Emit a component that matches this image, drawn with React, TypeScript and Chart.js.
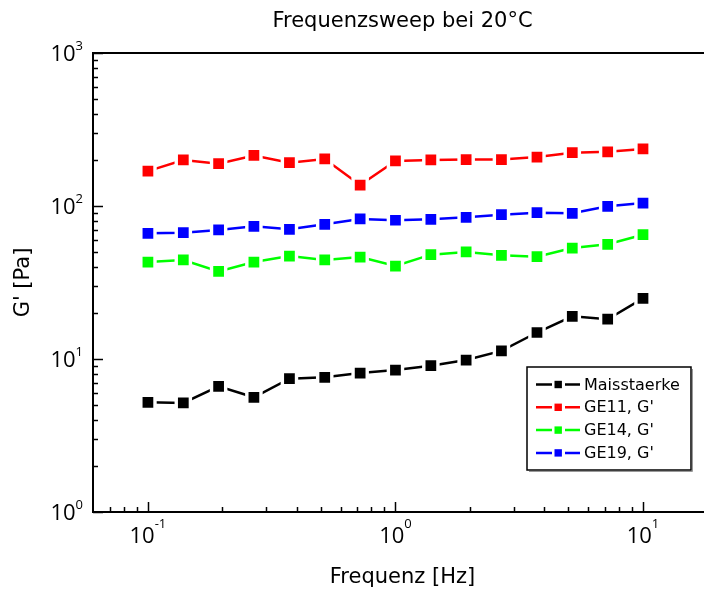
import React, { useEffect, useRef } from "react";
import { Chart, registerables } from "chart.js";

Chart.register(...registerables);

const frequency = [0.1, 0.139, 0.193, 0.268, 0.373, 0.518, 0.72, 1, 1.39, 1.93, 2.68, 3.73, 5.18, 7.2, 10];
const maisstaerke = [5.21, 5.16, 6.63, 5.62, 7.43, 7.59, 8.09, 8.47, 9.04, 9.85, 11.3, 14.9, 19.0, 18.2, 24.9];
const ge11 = [169, 200, 189, 214, 192, 203, 137, 197, 200, 201, 201, 209, 223, 226, 236];
const ge14 = [43.0, 44.4, 37.4, 43.0, 47.1, 44.4, 46.4, 40.5, 48.1, 50.1, 47.6, 46.6, 53.1, 56.2, 64.9];
const ge19 = [66.3, 66.9, 69.7, 73.7, 70.4, 75.9, 82.3, 80.7, 81.9, 84.4, 87.7, 90.4, 89.6, 99.5, 104.6];

const seriesNames = ["Maisstaerke", "GE11, G'", "GE14, G'", "GE19, G'"];
const seriesColors = ["#000000", "#ff0000", "#00ff00", "#0000ff"];

const tickBase = "10";
const xTickValues = [0.1, 1, 10];
const xTickExponents = ["-1", "0", "1"];
const yTickValues = [1, 10, 100, 1000];
const yTickExponents = ["0", "1", "2", "3"];

const titleText = "Frequenzsweep bei 20°C";
const xTitle = "Frequenz [Hz]";
const yTitle = "G' [Pa]";

const FONT = "'DejaVu Sans', sans-serif";
const TICK_FONT = "'Open Sans', 'DejaVu Sans', sans-serif";

function drawPow(ctx: any, x: number, baseY: number, expY: number, exp: string, align: "right" | "center") {
  ctx.font = `22px ${TICK_FONT}`;
  const wb = ctx.measureText(tickBase).width;
  ctx.font = `13px ${TICK_FONT}`;
  const we = ctx.measureText(exp).width;
  const total = wb + we;
  const start = align === "right" ? x - total : x - total / 2;
  ctx.textAlign = "left";
  ctx.textBaseline = "alphabetic";
  ctx.font = `22px ${TICK_FONT}`;
  ctx.fillText(tickBase, start, baseY);
  ctx.font = `13px ${TICK_FONT}`;
  ctx.fillText(exp, start + wb, expY);
}

const decorPlugin = {
  id: "decor",
  afterDraw(chart: any) {
    const { ctx, chartArea: ca, scales } = chart;
    const xs = scales.x;
    const ys = scales.y;
    ctx.save();
    ctx.strokeStyle = "#000";
    ctx.lineWidth = 2;
    ctx.beginPath();
    ctx.moveTo(ca.left - 1, ca.top);
    ctx.lineTo(ca.right, ca.top);
    ctx.stroke();

    ctx.lineWidth = 1.5;
    for (let k = -3; k <= 3; k++) {
      for (let m = 1; m <= 9; m++) {
        const v = m * Math.pow(10, k);
        const len = m === 1 ? 10 : 5;
        if (v >= xs.min && v <= xs.max) {
          const px = Math.round(xs.getPixelForValue(v)) + 0.5;
          if (px > ca.left + 2) {
            ctx.beginPath();
            ctx.moveTo(px, ca.bottom);
            ctx.lineTo(px, ca.bottom - len);
            ctx.stroke();
          }
        }
        if (v >= ys.min && v <= ys.max) {
          const py = Math.round(ys.getPixelForValue(v)) + 0.5;
          ctx.beginPath();
          ctx.moveTo(ca.left, py);
          ctx.lineTo(ca.left + len, py);
          ctx.stroke();
        }
      }
    }

    // tick labels
    ctx.fillStyle = "#000";
    xTickValues.forEach((v, i) => {
      const px = xs.getPixelForValue(v);
      drawPow(ctx, px, ca.bottom + 31, ca.bottom + 15.5, xTickExponents[i], "center");
    });
    yTickValues.forEach((v, i) => {
      const py = ys.getPixelForValue(v);
      drawPow(ctx, ca.left - 10, py + 8, py - 3.5, yTickExponents[i], "right");
    });

    // title
    ctx.fillStyle = "#000";
    ctx.font = `21px ${FONT}`;
    ctx.textAlign = "center";
    ctx.textBaseline = "middle";
    ctx.fillText(titleText, (ca.left + ca.right) / 2, 14);

    // legend
    const bx = ca.right - 21;
    const bl = bx - 164;
    const bt = ca.bottom - 145;
    const bb = ca.bottom - 42;
    ctx.fillStyle = "#fff";
    ctx.fillRect(bl, bt, bx - bl, bb - bt);
    ctx.strokeStyle = "#999";
    ctx.lineWidth = 1;
    ctx.beginPath();
    ctx.moveTo(bx + 1.5, bt + 2);
    ctx.lineTo(bx + 1.5, bb + 1.5);
    ctx.lineTo(bl + 2, bb + 1.5);
    ctx.stroke();
    ctx.strokeStyle = "#000";
    ctx.lineWidth = 1.5;
    ctx.strokeRect(bl, bt, bx - bl, bb - bt);

    ctx.font = `16px ${FONT}`;
    ctx.textAlign = "left";
    ctx.textBaseline = "middle";
    chart.data.datasets.forEach((ds: any, i: number) => {
      const cy = bt + 17.5 + i * 22.8;
      ctx.strokeStyle = ds.borderColor;
      ctx.lineWidth = 2.5;
      ctx.beginPath();
      ctx.moveTo(bl + 9, cy);
      ctx.lineTo(bl + 25, cy);
      ctx.moveTo(bl + 38, cy);
      ctx.lineTo(bl + 53, cy);
      ctx.stroke();
      ctx.fillStyle = ds.borderColor;
      ctx.fillRect(bl + 27.5, cy - 3.7, 7.4, 7.4);
      ctx.fillStyle = "#000";
      ctx.fillText(ds.label, bl + 57, cy + 1);
    });
    ctx.restore();
  },
};

export default function App() {
  const ref = useRef<HTMLCanvasElement | null>(null);
  useEffect(() => {
    if (!ref.current) return;
    const series = [maisstaerke, ge11, ge14, ge19];
    const chart = new Chart(ref.current, {
      type: "line",
      data: {
        datasets: series.map((arr, i) => ({
          label: seriesNames[i],
          data: frequency.map((f, j) => ({ x: f, y: arr[j] })),
          borderColor: seriesColors[i],
          backgroundColor: seriesColors[i],
          borderWidth: 2.5,
          pointStyle: "rect",
          pointRadius: 10,
          pointBorderColor: "#ffffff",
          pointBorderWidth: 3.4,
          tension: 0,
        })),
      },
      options: {
        animation: false,
        responsive: false,
        maintainAspectRatio: false,
        devicePixelRatio: 1,
        events: [],
        layout: { autoPadding: false, padding: { top: 45, left: 0, right: 0, bottom: 0 } },
        plugins: { legend: { display: false }, tooltip: { enabled: false }, title: { display: false } },
        scales: {
          x: {
            type: "logarithmic",
            min: 0.06,
            max: 19,
            afterFit: (s: any) => {
              s.height = 86;
              s.paddingLeft = 0;
              s.paddingRight = 0;
            },
            ticks: { display: false },
            grid: { display: true, drawOnChartArea: false, drawTicks: false },
            border: { display: true, color: "#000", width: 2 },
            title: { display: true, text: xTitle, color: "#000", font: { family: FONT, size: 21 }, padding: { top: 0, bottom: 7.4 } },
          },
          y: {
            type: "logarithmic",
            min: 1,
            max: 1000,
            afterFit: (s: any) => {
              s.width = 85;
              s.paddingTop = 0;
              s.paddingBottom = 0;
            },
            ticks: { display: false },
            grid: { display: true, drawOnChartArea: false, drawTicks: false },
            border: { display: true, color: "#000", width: 2 },
            title: { display: true, text: yTitle, color: "#000", font: { family: FONT, size: 21 }, padding: { top: 3.4, bottom: 0 } },
          },
        },
      } as any,
      plugins: [decorPlugin],
    });
    return () => chart.destroy();
  }, []);
  return (
    <div style={{ width: 704, height: 590, marginBottom: -8 }}>
      <canvas ref={ref} width={704} height={590} style={{ display: "block" }} />
    </div>
  );
}
